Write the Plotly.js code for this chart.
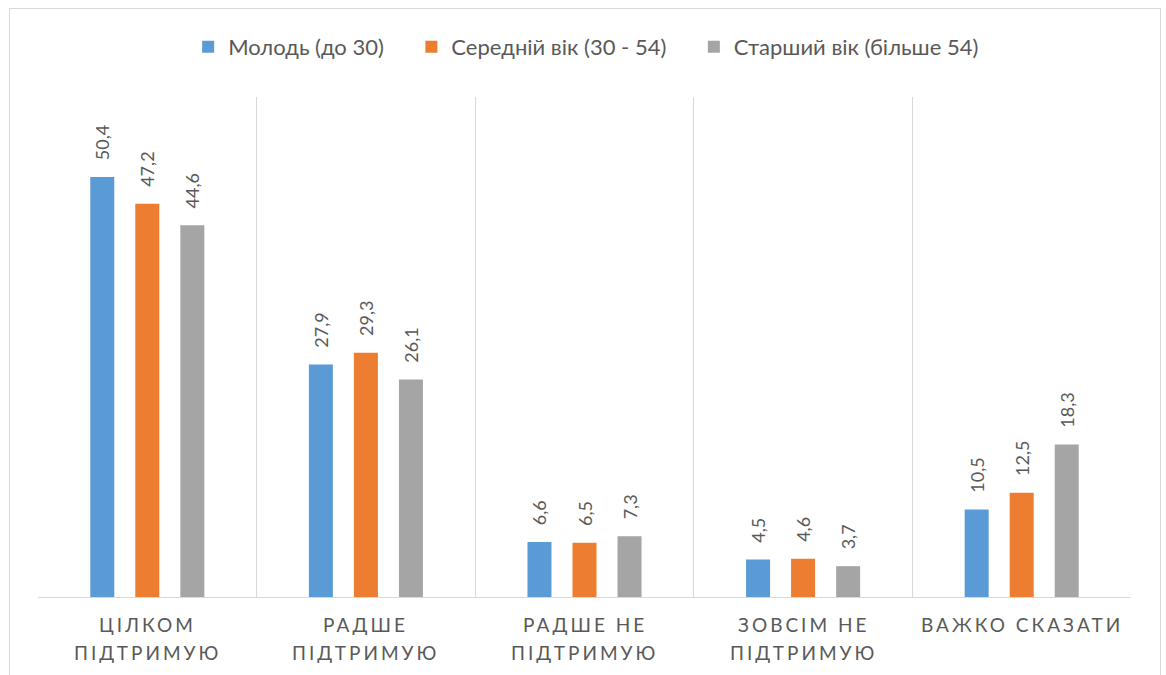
<!DOCTYPE html>
<html>
<head>
<meta charset="utf-8">
<script src="https://cdn.plot.ly/plotly-3.0.1.min.js"></script>
<style>
  html, body { margin: 0; padding: 0; background: #fff; }
  #chart { width: 1166px; height: 675px; position: absolute; left: 0; top: 0; }
  #frame { position: absolute; left: 9px; top: 8px; width: 1150px; height: 700px; border: 1px solid #d9d9d9; pointer-events: none; }
</style>
</head>
<body>
<div id="chart"></div>
<div id="frame"></div>
<script>
const categories = ["Цілком підтримую", "Радше підтримую", "Радше не підтримую", "Зовсім не підтримую", "Важко сказати"];
const labelLine1 = ["ЦІЛКОМ", "РАДШЕ", "РАДШЕ НЕ", "ЗОВСІМ НЕ", "ВАЖКО СКАЗАТИ"];
const labelLine2 = ["ПІДТРИМУЮ", "ПІДТРИМУЮ", "ПІДТРИМУЮ", "ПІДТРИМУЮ", ""];
const seriesNames = ["Молодь (до 30)", "Середній вік (30 - 54)", "Старший вік (більше 54)"];
const youth = [50.4, 27.9, 6.6, 4.5, 10.5];
const middle = [47.2, 29.3, 6.5, 4.6, 12.5];
const senior = [44.6, 26.1, 7.3, 3.7, 18.3];
const colors = ["#5B9BD5", "#ED7D31", "#A5A5A5"];

const fmt = v => "\u00A0\u00A0\u00A0" + v.toFixed(1).replace(".", ",");
const FONT = "Lato, 'Open Sans', sans-serif";
const TEXT = "#595959";
const pad = "\u00A0".repeat(4);

const traces = [youth, middle, senior].map((vals, i) => ({
  type: "bar",
  name: i < 2 ? seriesNames[i] + pad : seriesNames[i],
  x: categories,
  y: vals,
  marker: { color: colors[i] },
  text: vals.map(fmt),
  textposition: "outside",
  textangle: -90,
  constraintext: "none",
  cliponaxis: false,
  textfont: { family: FONT, size: 18, color: TEXT },
  hoverinfo: "none"
}));

const spaced = s => '<span style="letter-spacing:3px">' + s + '</span>';
const annotations = [];
categories.forEach((c, i) => {
  [labelLine1[i], labelLine2[i]].forEach((line, k) => {
    if (!line) return;
    annotations.push({
      x: c, xref: "x",
      y: 0, yref: "paper",
      xanchor: "center", yanchor: "middle",
      yshift: -27 - 28 * k,
      showarrow: false,
      text: spaced(line),
      font: { family: FONT, size: 19, color: TEXT }
    });
  });
});

const layout = {
  width: 1166,
  height: 675,
  margin: { l: 38, r: 35, t: 97, b: 78 },
  paper_bgcolor: "rgba(0,0,0,0)",
  plot_bgcolor: "rgba(0,0,0,0)",
  barmode: "group",
  bargap: 0.382,
  bargroupgap: 0.467,
  showlegend: true,
  legend: {
    orientation: "h",
    x: 0.5015, xanchor: "center",
    y: 1.1, yanchor: "middle",
    font: { family: FONT, size: 22, color: TEXT },
    itemwidth: 30,
    traceorder: "normal"
  },
  annotations: annotations,
  xaxis: {
    type: "category",
    tickson: "boundaries",
    ticks: "",
    showticklabels: false,
    showgrid: true,
    gridcolor: "#d9d9d9",
    gridwidth: 1,
    showline: true,
    linecolor: "#d9d9d9",
    linewidth: 1,
    fixedrange: true
  },
  yaxis: {
    range: [0, 60],
    showticklabels: false,
    showgrid: false,
    zeroline: false,
    showline: false,
    ticks: "",
    fixedrange: true
  }
};

Plotly.newPlot("chart", traces, layout, { displayModeBar: false, staticPlot: true });
</script>
</body>
</html>
